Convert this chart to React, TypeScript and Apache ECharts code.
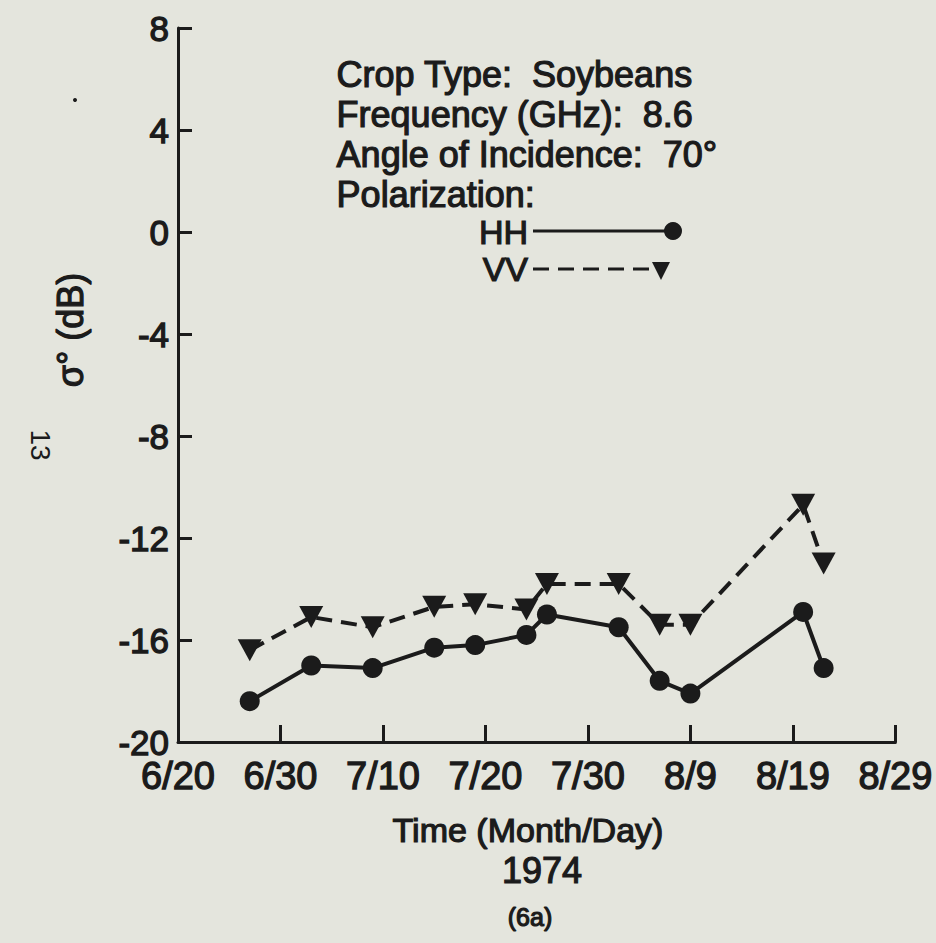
import React, { useEffect, useRef } from "react";
import * as echarts from "echarts";

const xTickLabels = ["6/20", "6/30", "7/10", "7/20", "7/30", "8/9", "8/19", "8/29"];
const dates = ["6/27", "7/3", "7/9", "7/15", "7/19", "7/24", "7/26", "8/2", "8/6", "8/9", "8/20", "8/22"];
const hhValues = [-18.4, -17.0, -17.1, -16.3, -16.2, -15.8, -15.0, -15.5, -17.6, -18.1, -14.9, -17.1];
const vvValues = [-16.4, -15.1, -15.5, -14.7, -14.6, -14.8, -13.8, -13.8, -15.4, -15.4, -10.7, -13.0];

const infoLines = [
  "Crop Type:  Soybeans",
  "Frequency (GHz):  8.6",
  "Angle of Incidence:  70°",
  "Polarization:",
];

// days since 6/20
function dayOffset(md: string): number {
  const [m, d] = md.split("/").map(Number);
  const monthStart: Record<number, number> = { 6: -20, 7: 10, 8: 41 };
  return monthStart[m] + d;
}

const FONT = "'Liberation Sans', Arial, sans-serif";
const INK = "#1b1b1b";
const PAPER = "#e4e5dd";

export default function App() {
  const ref = useRef<HTMLDivElement>(null);
  useEffect(() => {
    document.body.style.margin = "0";
    document.body.style.background = PAPER;
    const chart = echarts.init(ref.current!, null, { renderer: "svg" });
    const hh = dates.map((d, i) => [dayOffset(d), hhValues[i]]);
    const vv = dates.map((d, i) => [dayOffset(d), vvValues[i]]);
    const textStyle = (fs: number) => ({
      fill: INK,
      fontFamily: FONT,
      fontSize: fs,
      stroke: INK,
      lineWidth: 1.2,
    });
    const labelStyle = (fs: number) => ({
      color: INK,
      fontFamily: FONT,
      fontSize: fs,
      textBorderColor: INK,
      textBorderWidth: 1.3,
    });
    chart.setOption({
      animation: false,
      backgroundColor: PAPER,
      grid: { left: 178, right: 38, top: 28, bottom: 201 },
      xAxis: {
        type: "value",
        min: 0,
        max: 70,
        interval: 10,
        axisLine: { show: true, onZero: false, lineStyle: { color: INK, width: 3 } },
        axisTick: { show: true, inside: true, length: 17, lineStyle: { color: INK, width: 3 } },
        splitLine: { show: false },
        axisLabel: {
          ...labelStyle(38),
          lineHeight: 30,
          margin: 19,
          formatter: (v: number) => xTickLabels[Math.round(v / 10)] ?? "",
        },
      },
      yAxis: {
        type: "value",
        min: -20,
        max: 8,
        interval: 4,
        axisLine: { show: true, onZero: false, lineStyle: { color: INK, width: 3 } },
        axisTick: { show: true, inside: true, length: 14, lineStyle: { color: INK, width: 3 } },
        splitLine: { show: false },
        axisLabel: { ...labelStyle(35), lineHeight: 26, margin: 9 },
      },
      series: [
        {
          name: "HH",
          type: "line",
          data: hh,
          symbol: "circle",
          symbolSize: 20,
          itemStyle: { color: INK },
          lineStyle: { color: INK, width: 4, type: "solid" },
        },
        {
          name: "VV",
          type: "line",
          data: vv,
          symbol: "triangle",
          symbolRotate: 180,
          symbolSize: [24, 22],
          itemStyle: { color: INK },
          lineStyle: { color: INK, width: 4, type: [16, 9] },
        },
      ],
      graphic: [
        ...infoLines.map((t, i) => ({
          type: "text",
          left: 336,
          top: 56 + i * 40,
          style: { text: t, ...textStyle(36) },
        })),
        {
          type: "text",
          x: 528,
          y: 232,
          style: { text: "HH", align: "right", verticalAlign: "middle", lineHeight: 28, ...textStyle(34) },
        },
        { type: "line", shape: { x1: 533, y1: 231, x2: 672, y2: 231 }, style: { stroke: INK, lineWidth: 3 } },
        { type: "circle", shape: { cx: 673, cy: 231, r: 9 }, style: { fill: INK } },
        {
          type: "text",
          x: 528,
          y: 269,
          style: { text: "VV", align: "right", verticalAlign: "middle", lineHeight: 28, ...textStyle(34) },
        },
        {
          type: "line",
          shape: { x1: 533, y1: 269, x2: 655, y2: 269 },
          style: { stroke: INK, lineWidth: 3, lineDash: [16, 9] },
        },
        { type: "polygon", shape: { points: [[652, 262], [670, 262], [661, 280]] }, style: { fill: INK } },
        { type: "circle", shape: { cx: 75, cy: 100, r: 2 }, style: { fill: INK } },
        {
          type: "text",
          x: 70,
          y: 330,
          rotation: Math.PI / 2,
          style: { text: "σ° (dB)", align: "center", verticalAlign: "middle", ...textStyle(36) },
        },
        {
          type: "text",
          x: 40,
          y: 445,
          rotation: -Math.PI / 2,
          style: { text: "13", align: "center", verticalAlign: "middle", fill: INK, fontFamily: FONT, fontSize: 28 },
        },
        {
          type: "text",
          x: 528,
          y: 830,
          style: { text: "Time (Month/Day)", align: "center", verticalAlign: "middle", ...textStyle(34) },
        },
        {
          type: "text",
          x: 542,
          y: 870,
          style: { text: "1974", align: "center", verticalAlign: "middle", ...textStyle(36) },
        },
        {
          type: "text",
          x: 530,
          y: 917,
          style: { text: "(6a)", align: "center", verticalAlign: "middle", ...textStyle(25) },
        },
      ],
    });
    return () => chart.dispose();
  }, []);
  return <div ref={ref} style={{ width: 936, height: 943 }} />;
}
